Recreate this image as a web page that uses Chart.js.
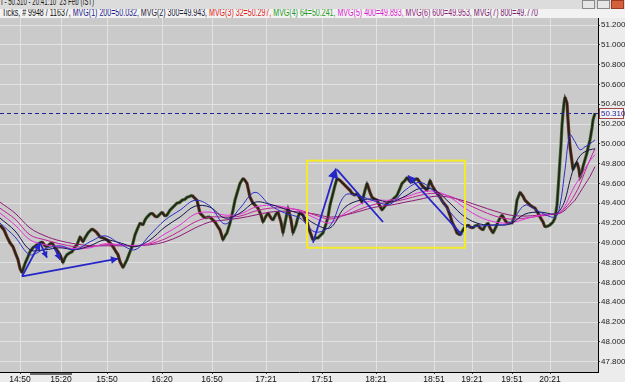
<!DOCTYPE html>
<html>
<head>
<meta charset="utf-8">
<script src="https://cdn.jsdelivr.net/npm/chart.js@4.4.1/dist/chart.umd.min.js"></script>
<style>
  html, body { margin: 0; padding: 0; background: #ececec; }
  #wrap { position: relative; width: 625px; height: 382px; overflow: hidden; }
  #chart { position: absolute; left: 0; top: 0; }
  #titleRow { position: absolute; left: 0; top: 0; width: 625px; height: 9px; background: #dcdcdc; overflow: hidden; }
  #title { position: absolute; left: 1px; top: -4px; font: 10px 'Liberation Sans', Arial, sans-serif; color: #1a1a1a; white-space: pre; transform-origin: 0 0; }
  #infoRow { position: absolute; left: 0; top: 9px; width: 625px; height: 9px; background: #f2f2f2; overflow: hidden; }
  #info { position: absolute; left: 2px; top: -2px; font: 10px 'Liberation Sans', Arial, sans-serif; white-space: pre; transform-origin: 0 0; }
  .btn { position: absolute; top: 0; width: 11px; height: 7px; border: 1px solid #8a8a8a; background: #e6e6e6; }
  #scroll { position: absolute; left: 30px; top: 373px; width: 42px; height: 2px; background: #6a6a6a; }
</style>
</head>
<body>
<div id="wrap">
  <canvas id="chart" width="625" height="382"></canvas>
  <div id="titleRow"><span id="title">I - 50.310 - 20:41:10  23 Feb (IST)</span>
    <div class="btn" style="left:582px"></div>
    <div class="btn" style="left:597px"></div>
    <div class="btn" style="left:611px; background:#d4603c; border-color:#9a3a20"></div>
  </div>
  <div id="infoRow"><span id="info"><span style="color:#111">Ticks, # 9948 / 11637, </span><span style="color:#1c1c8c">MVG(1) 200=50.032, </span><span style="color:#20203a">MVG(2) 300=49.943, </span><span style="color:#e01818">MVG(3) 32=50.297, </span><span style="color:#1e9a1e">MVG(4) 64=50.241, </span><span style="color:#d81cd0">MVG(5) 400=49.893, </span><span style="color:#8a2278">MVG(6) 600=49.953, </span><span style="color:#7a1c70">MVG(7) 800=49.770</span></span></div>
  <div id="scroll"></div>
</div>
<script>
// time axis labels (tick positions on the bar index axis)
const timeIdx = [20, 61, 107, 162, 212, 266, 322, 376, 434, 472, 512, 550];
const timeLabels = ['14:50', '15:20', '15:50', '16:20', '16:50', '17:21', '17:51', '18:21', '18:51', '19:21', '19:51', '20:21'];

// price axis ticks
const yTicks = [47.8, 48.0, 48.2, 48.4, 48.6, 48.8, 49.0, 49.2, 49.4, 49.6, 49.8, 50.0, 50.2, 50.4, 50.6, 50.8, 51.0, 51.2];

const lastPrice = 50.310;

// tick price, [bar index, price]
const priceTicks = [
  [0,49.18],[4,49.13],[7,49.06],[10,49.00],[13,48.96],[16,48.88],[18,48.83],[20,48.74],[22,48.70],[25,48.79],
  [28,48.86],[30,48.91],[33,48.95],[37,48.98],[40,49.00],[42,49.01],[45,48.97],[47,48.96],[50,48.99],[52,49.00],
  [55,48.95],[58,48.91],[60,48.88],[63,48.80],[65,48.85],[67,48.88],[70,48.90],[72,48.91],[75,48.96],[77,48.98],
  [80,49.06],[83,49.01],[85,49.05],[88,49.10],[90,49.12],[92,49.14],[95,49.12],[97,49.10],[100,49.06],[103,49.05],
  [107,49.03],[110,49.00],[113,48.96],[116,48.91],[118,48.88],[120,48.81],[123,48.75],[125,48.79],[127,48.83],[130,48.91],
  [132,48.96],[135,49.08],[137,49.13],[140,49.20],[143,49.18],[145,49.23],[147,49.26],[150,49.29],[152,49.30],[155,49.27],
  [157,49.26],[160,49.29],[162,49.31],[165,49.27],[167,49.28],[170,49.33],[172,49.35],[175,49.38],[177,49.40],[180,49.41],
  [182,49.43],[185,49.44],[187,49.46],[190,49.47],[192,49.48],[195,49.45],[197,49.43],[200,49.30],[203,49.27],[205,49.25],
  [208,49.26],[210,49.26],[213,49.23],[215,49.21],[218,49.16],[220,49.13],[223,49.03],[225,49.07],[227,49.10],[230,49.20],
  [233,49.33],[235,49.43],[237,49.50],[240,49.60],[243,49.65],[245,49.63],[247,49.60],[250,49.46],[253,49.40],[256,49.37],
  [258,49.35],[261,49.28],[263,49.21],[266,49.27],[268,49.30],[271,49.25],[273,49.23],[276,49.29],[278,49.31],[281,49.21],
  [283,49.10],[286,49.25],[288,49.35],[291,49.23],[293,49.10],[296,49.18],[298,49.26],[300,49.31],[303,49.28],[305,49.23],
  [307,49.21],[310,49.11],[313,49.03],[316,49.05],[318,49.05],[320,49.07],[323,49.10],[326,49.19],[328,49.26],[330,49.38],
  [332,49.46],[335,49.58],[337,49.65],[340,49.63],[342,49.61],[345,49.58],[347,49.56],[350,49.53],[352,49.50],[355,49.48],
  [357,49.50],[360,49.45],[362,49.41],[365,49.53],[367,49.60],[370,49.51],[372,49.46],[375,49.44],[377,49.43],[380,49.37],
  [382,49.33],[385,49.37],[387,49.40],[390,49.42],[392,49.43],[395,49.46],[397,49.48],[400,49.55],[402,49.60],[405,49.63],
  [407,49.66],[410,49.62],[412,49.61],[415,49.64],[417,49.65],[420,49.61],[422,49.58],[425,49.55],[427,49.53],[430,49.63],
  [432,49.58],[435,49.53],[437,49.50],[440,49.46],[443,49.41],[447,49.36],[450,49.28],[452,49.21],[455,49.15],[457,49.10],
  [460,49.08],[463,49.13],[465,49.16],[468,49.18],[470,49.16],[473,49.15],[475,49.17],[478,49.18],[480,49.15],[483,49.13],
  [485,49.17],[488,49.20],[490,49.15],[493,49.10],[496,49.16],[498,49.21],[500,49.25],[502,49.28],[505,49.23],[507,49.20],
  [510,49.20],[512,49.20],[515,49.28],[517,49.43],[520,49.51],[523,49.47],[525,49.43],[528,49.40],[530,49.38],[533,49.36],
  [535,49.35],[538,49.30],[540,49.26],[543,49.21],[545,49.16],[548,49.17],[550,49.18],[553,49.21],[555,49.25],[557,49.38],
  [558,49.53],[559,49.68],[560,49.84],[561,49.99],[562,50.19],[563,50.31],[564,50.41],[565,50.47],[566,50.44],[567,50.41],
  [568,50.24],[569,50.09],[570,49.97],[572,49.82],[573,49.74],[575,49.78],[577,49.81],[579,49.74],[580,49.66],[582,49.72],
  [583,49.77],[585,49.84],[587,49.91],[588,49.96],[590,50.04],[592,50.16],[593,50.24],[595,50.31]
];

// moving averages, sampled at maIdx
const maIdx = [0, 15, 30, 45, 60, 75, 90, 105, 120, 135, 150, 165, 180, 195, 210, 225, 240, 255, 270, 285,
  300, 315, 330, 345, 360, 375, 390, 405, 420, 435, 450, 465, 480, 495, 510, 525, 540, 555,
  560, 565, 570, 575, 580, 585, 590, 595];

const mvg200 = [49.20,49.06,48.88,48.94,48.97,48.93,49.01,49.07,48.99,48.93,
  49.08,49.23,49.33,49.43,49.37,49.19,49.35,49.51,49.38,49.30,
  49.25,49.11,49.17,49.48,49.47,49.42,49.39,49.53,49.61,49.51,
  49.31,49.17,49.17,49.18,49.20,49.38,49.31,49.26,
  49.38,49.74,50.09,50.02,49.94,49.97,50.00,50.04];
const mvg300 = [49.25,49.12,48.93,48.93,48.95,48.93,48.97,49.03,49.00,48.96,
  49.03,49.16,49.26,49.37,49.36,49.25,49.30,49.41,49.39,49.34,
  49.29,49.19,49.15,49.36,49.43,49.44,49.41,49.47,49.55,49.53,
  49.40,49.26,49.19,49.18,49.19,49.29,49.31,49.29,
  49.33,49.43,49.63,49.79,49.88,49.92,49.94,49.95];
const mvg400 = [49.30,49.18,49.03,48.98,48.96,48.94,48.95,48.99,48.98,48.97,
  49.00,49.09,49.18,49.29,49.31,49.28,49.29,49.36,49.38,49.36,
  49.32,49.25,49.20,49.30,49.39,49.43,49.43,49.46,49.51,49.52,
  49.46,49.35,49.26,49.21,49.20,49.24,49.28,49.29,
  49.31,49.37,49.48,49.58,49.66,49.75,49.83,49.89];
const mvg600 = [49.35,49.24,49.08,49.03,48.99,48.96,48.96,48.98,48.98,48.97,
  48.99,49.04,49.12,49.21,49.26,49.26,49.27,49.32,49.35,49.35,
  49.33,49.28,49.24,49.28,49.34,49.39,49.41,49.44,49.48,49.50,
  49.47,49.40,49.33,49.27,49.24,49.25,49.27,49.29,
  49.30,49.35,49.41,49.49,49.59,49.72,49.84,49.95];
const mvg800 = [49.41,49.30,49.15,49.07,49.02,48.99,48.97,48.97,48.97,48.97,
  48.98,49.01,49.07,49.15,49.21,49.23,49.25,49.28,49.31,49.32,
  49.31,49.29,49.26,49.28,49.32,49.36,49.38,49.41,49.44,49.47,
  49.46,49.42,49.37,49.32,49.28,49.27,49.28,49.29,
  49.30,49.33,49.38,49.43,49.51,49.59,49.67,49.77];

// hand drawn trend lines: [bar1, price1, bar2, price2, arrow head size]
const trendLines = [
  [22, 48.66, 118, 48.84, 8],
  [22, 48.66, 40, 49.00, 8],
  [40, 49.00, 47, 48.85, 7],
  [55, 48.94, 60, 48.83, 7],
  [313, 49.00, 336, 49.75, 11],
  [337, 49.74, 383, 49.21, 0],
  [462, 49.08, 408, 49.68, 9]
];
const boxBars = [307, 465];
const boxPrices = [48.95, 49.83];

const FONT = "'Liberation Sans', Arial, sans-serif";

function series(xs, ys) {
  return xs.map((x, i) => ({x: x, y: ys[i]}));
}

function arrowHead(ctx, x1, y1, x2, y2, size) {
  const ang = Math.atan2(y2 - y1, x2 - x1);
  ctx.beginPath();
  ctx.moveTo(x2, y2);
  ctx.lineTo(x2 - size * Math.cos(ang - 0.5), y2 - size * Math.sin(ang - 0.5));
  ctx.lineTo(x2 - size * Math.cos(ang + 0.5), y2 - size * Math.sin(ang + 0.5));
  ctx.closePath();
  ctx.fill();
}

const drawings = {
  id: 'drawings',
  beforeDraw(chart) {
    const {ctx, chartArea: a} = chart;
    ctx.save();
    ctx.fillStyle = '#cacaca';
    ctx.fillRect(a.left, a.top, a.right - a.left, a.bottom - a.top);
    ctx.restore();
  },
  afterDatasetsDraw(chart) {
    const {ctx, chartArea: a, scales: {x, y}} = chart;
    ctx.save();
    ctx.beginPath();
    ctx.rect(a.left, a.top, a.right - a.left, a.bottom - a.top);
    ctx.clip();

    // last price line
    const yl = Math.round(y.getPixelForValue(lastPrice)) + 0.5;
    ctx.strokeStyle = '#24249a';
    ctx.lineWidth = 1;
    ctx.setLineDash([4, 3]);
    ctx.beginPath();
    ctx.moveTo(a.left, yl);
    ctx.lineTo(a.right, yl);
    ctx.stroke();
    ctx.setLineDash([]);

    // yellow box
    ctx.strokeStyle = '#f4ea2c';
    ctx.lineWidth = 2;
    const bx1 = x.getPixelForValue(boxBars[0]), bx2 = x.getPixelForValue(boxBars[1]);
    const by1 = y.getPixelForValue(boxPrices[1]), by2 = y.getPixelForValue(boxPrices[0]);
    ctx.strokeRect(bx1, by1, bx2 - bx1, by2 - by1);

    // trend lines
    ctx.strokeStyle = '#2626c8';
    ctx.fillStyle = '#2626c8';
    ctx.lineWidth = 1.8;
    trendLines.forEach(t => {
      const x1 = x.getPixelForValue(t[0]), y1 = y.getPixelForValue(t[1]);
      const x2 = x.getPixelForValue(t[2]), y2 = y.getPixelForValue(t[3]);
      ctx.beginPath();
      ctx.moveTo(x1, y1);
      ctx.lineTo(x2, y2);
      ctx.stroke();
      if (t[4]) arrowHead(ctx, x1, y1, x2, y2, t[4]);
    });
    ctx.restore();
  },
  afterDraw(chart) {
    const {ctx, chartArea: a, scales: {y}} = chart;
    const yl = Math.round(y.getPixelForValue(lastPrice));
    ctx.save();
    ctx.fillStyle = '#f4f4f4';
    ctx.fillRect(a.right + 1, yl - 5, 25, 11);
    ctx.strokeStyle = '#a04848';
    ctx.lineWidth = 1;
    ctx.strokeRect(a.right + 1.5, yl - 4.5, 24, 10);
    ctx.fillStyle = '#24249a';
    ctx.font = '8px ' + FONT;
    ctx.textBaseline = 'middle';
    ctx.fillText(lastPrice.toFixed(3), a.right + 3, yl + 0.5);
    ctx.restore();
  }
};

const maLine = (data, color, order) => ({
  data: data,
  borderColor: color,
  borderWidth: 1,
  pointRadius: 0,
  tension: 0.35,
  order: order
});

new Chart(document.getElementById('chart'), {
  type: 'line',
  data: {
    datasets: [
      maLine(series(maIdx, mvg200), '#2a30c4', 1),
      maLine(series(maIdx, mvg300), '#16164e', 2),
      maLine(series(maIdx, mvg400), '#e236d6', 3),
      maLine(series(maIdx, mvg600), '#c0229a', 4),
      maLine(series(maIdx, mvg800), '#8e1a78', 5),
      {
        data: priceTicks.map(p => ({x: p[0], y: p[1]})),
        borderColor: '#24241a',
        borderWidth: 1.8,
        pointRadius: 0,
        order: 10
      },
      {
        data: priceTicks.map(p => ({x: p[0], y: p[1]})),
        borderWidth: 3.2,
        pointRadius: 0,
        order: 11,
        segment: {
          borderColor: c => c.p1.parsed.y >= c.p0.parsed.y ? '#4a7236' : '#7a3a2a'
        }
      }
    ]
  },
  options: {
    responsive: false,
    animation: false,
    devicePixelRatio: 1,
    layout: {padding: {top: 18, left: 0, right: 0, bottom: 0}},
    plugins: {legend: {display: false}, tooltip: {enabled: false}},
    scales: {
      x: {
        type: 'linear',
        min: 0,
        max: 598,
        afterBuildTicks: s => { s.ticks = timeIdx.map(v => ({value: v})); },
        afterFit: s => { s.height = 10; },
        ticks: {
          autoSkip: false,
          maxRotation: 0,
          padding: 1,
          color: '#111',
          font: {size: 8.5, family: FONT},
          callback: (v, i) => timeLabels[i]
        },
        grid: {color: '#e2e2e2', tickLength: 2, tickColor: '#444'},
        border: {color: '#000', width: 1}
      },
      y: {
        position: 'right',
        min: 47.695,
        max: 51.271,
        afterBuildTicks: s => { s.ticks = yTicks.map(v => ({value: v})); },
        afterFit: s => { s.width = 27; },
        ticks: {
          padding: 1,
          color: '#222',
          font: {size: 8, family: FONT},
          callback: v => v.toFixed(3)
        },
        grid: {color: '#e2e2e2', tickLength: 2, tickColor: '#444'},
        border: {color: '#000', width: 1}
      }
    }
  },
  plugins: [drawings]
});

function fitText(id, width) {
  const el = document.getElementById(id);
  const w = el.getBoundingClientRect().width;
  el.style.transform = 'scaleX(' + (width / w) + ')';
}
fitText('title', 93);
fitText('info', 536);
</script>
</body>
</html>
